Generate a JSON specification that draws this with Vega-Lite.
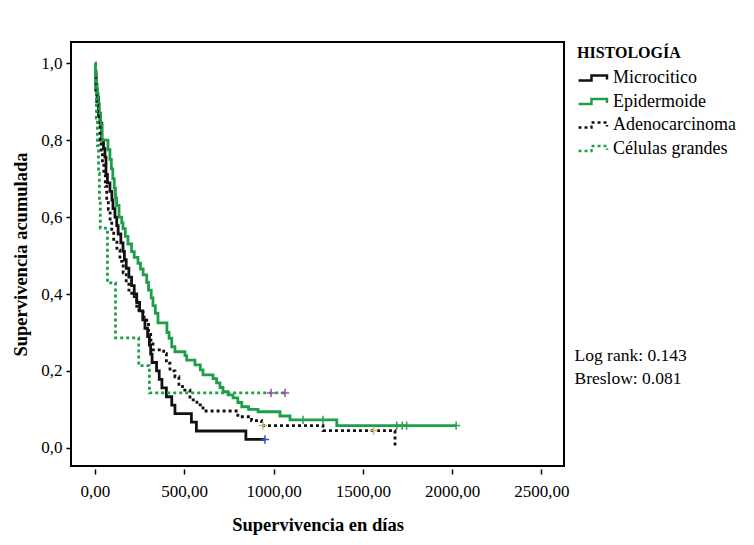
{
  "$schema": "https://vega.github.io/schema/vega-lite/v6.json",
  "width": 493,
  "height": 424,
  "autosize": {"type": "none"},
  "padding": {"left": 71, "top": 42, "right": 190, "bottom": 79},
  "background": "white",
  "config": {
    "locale": {"number": {"decimal": ",", "thousands": ".", "grouping": [3], "currency": ["", ""]}},
    "view": {"fill": "#e6e6e6", "stroke": "#000000", "strokeWidth": 2},
    "font": "Liberation Serif",
    "axis": {
      "labelFont": "Liberation Serif", "titleFont": "Liberation Serif",
      "labelColor": "#000000", "titleColor": "#000000", "tickColor": "#000000",
      "grid": false, "domain": false, "labelFontSize": 17, "titleFontSize": 18.5,
      "titleFontWeight": "bold", "tickWidth": 1.5, "tickSize": 5
    }
  },
  "datasets": {
    "km": [
      {"h": "Microcitico", "t": 0, "s": 0.978},
      {"h": "Microcitico", "t": 6, "s": 0.933},
      {"h": "Microcitico", "t": 12, "s": 0.911},
      {"h": "Microcitico", "t": 20, "s": 0.867},
      {"h": "Microcitico", "t": 28, "s": 0.844},
      {"h": "Microcitico", "t": 38, "s": 0.8},
      {"h": "Microcitico", "t": 48, "s": 0.778},
      {"h": "Microcitico", "t": 56, "s": 0.756},
      {"h": "Microcitico", "t": 62, "s": 0.711},
      {"h": "Microcitico", "t": 70, "s": 0.689},
      {"h": "Microcitico", "t": 84, "s": 0.667},
      {"h": "Microcitico", "t": 95, "s": 0.644},
      {"h": "Microcitico", "t": 101, "s": 0.622},
      {"h": "Microcitico", "t": 112, "s": 0.6},
      {"h": "Microcitico", "t": 122, "s": 0.578},
      {"h": "Microcitico", "t": 130, "s": 0.556},
      {"h": "Microcitico", "t": 145, "s": 0.533},
      {"h": "Microcitico", "t": 157, "s": 0.511},
      {"h": "Microcitico", "t": 165, "s": 0.489},
      {"h": "Microcitico", "t": 175, "s": 0.467},
      {"h": "Microcitico", "t": 190, "s": 0.444},
      {"h": "Microcitico", "t": 205, "s": 0.422},
      {"h": "Microcitico", "t": 220, "s": 0.4},
      {"h": "Microcitico", "t": 234, "s": 0.378},
      {"h": "Microcitico", "t": 250, "s": 0.356},
      {"h": "Microcitico", "t": 268, "s": 0.333},
      {"h": "Microcitico", "t": 280, "s": 0.311},
      {"h": "Microcitico", "t": 295, "s": 0.289},
      {"h": "Microcitico", "t": 305, "s": 0.267},
      {"h": "Microcitico", "t": 312, "s": 0.244},
      {"h": "Microcitico", "t": 320, "s": 0.222},
      {"h": "Microcitico", "t": 345, "s": 0.2},
      {"h": "Microcitico", "t": 360, "s": 0.178},
      {"h": "Microcitico", "t": 375, "s": 0.156},
      {"h": "Microcitico", "t": 400, "s": 0.133},
      {"h": "Microcitico", "t": 430, "s": 0.111},
      {"h": "Microcitico", "t": 448, "s": 0.089},
      {"h": "Microcitico", "t": 540, "s": 0.067},
      {"h": "Microcitico", "t": 568, "s": 0.044},
      {"h": "Microcitico", "t": 845, "s": 0.022},
      {"h": "Microcitico", "t": 952, "s": 0.022},

      {"h": "Epidermoide", "t": 0, "s": 1.0},
      {"h": "Epidermoide", "t": 3, "s": 0.97},
      {"h": "Epidermoide", "t": 7, "s": 0.945},
      {"h": "Epidermoide", "t": 12, "s": 0.92},
      {"h": "Epidermoide", "t": 18, "s": 0.895},
      {"h": "Epidermoide", "t": 25, "s": 0.87},
      {"h": "Epidermoide", "t": 32, "s": 0.84},
      {"h": "Epidermoide", "t": 40, "s": 0.8},
      {"h": "Epidermoide", "t": 73, "s": 0.775},
      {"h": "Epidermoide", "t": 84, "s": 0.75},
      {"h": "Epidermoide", "t": 92, "s": 0.725},
      {"h": "Epidermoide", "t": 100, "s": 0.7},
      {"h": "Epidermoide", "t": 108, "s": 0.675},
      {"h": "Epidermoide", "t": 115, "s": 0.65},
      {"h": "Epidermoide", "t": 121, "s": 0.63},
      {"h": "Epidermoide", "t": 135, "s": 0.6},
      {"h": "Epidermoide", "t": 150, "s": 0.585},
      {"h": "Epidermoide", "t": 157, "s": 0.57},
      {"h": "Epidermoide", "t": 170, "s": 0.55},
      {"h": "Epidermoide", "t": 185, "s": 0.53},
      {"h": "Epidermoide", "t": 205, "s": 0.51},
      {"h": "Epidermoide", "t": 220, "s": 0.495},
      {"h": "Epidermoide", "t": 241, "s": 0.48},
      {"h": "Epidermoide", "t": 255, "s": 0.465},
      {"h": "Epidermoide", "t": 270, "s": 0.45},
      {"h": "Epidermoide", "t": 290, "s": 0.43},
      {"h": "Epidermoide", "t": 300, "s": 0.41},
      {"h": "Epidermoide", "t": 315, "s": 0.39},
      {"h": "Epidermoide", "t": 325, "s": 0.37},
      {"h": "Epidermoide", "t": 338, "s": 0.35},
      {"h": "Epidermoide", "t": 353, "s": 0.325},
      {"h": "Epidermoide", "t": 403, "s": 0.3},
      {"h": "Epidermoide", "t": 415, "s": 0.285},
      {"h": "Epidermoide", "t": 430, "s": 0.263},
      {"h": "Epidermoide", "t": 448, "s": 0.25},
      {"h": "Epidermoide", "t": 504, "s": 0.24},
      {"h": "Epidermoide", "t": 514, "s": 0.228},
      {"h": "Epidermoide", "t": 560, "s": 0.216},
      {"h": "Epidermoide", "t": 590, "s": 0.203},
      {"h": "Epidermoide", "t": 605, "s": 0.19},
      {"h": "Epidermoide", "t": 661, "s": 0.18},
      {"h": "Epidermoide", "t": 681, "s": 0.169},
      {"h": "Epidermoide", "t": 700, "s": 0.157},
      {"h": "Epidermoide", "t": 717, "s": 0.146},
      {"h": "Epidermoide", "t": 745, "s": 0.138},
      {"h": "Epidermoide", "t": 773, "s": 0.13},
      {"h": "Epidermoide", "t": 800, "s": 0.118},
      {"h": "Epidermoide", "t": 822, "s": 0.107},
      {"h": "Epidermoide", "t": 860, "s": 0.1},
      {"h": "Epidermoide", "t": 913, "s": 0.094},
      {"h": "Epidermoide", "t": 1036, "s": 0.083},
      {"h": "Epidermoide", "t": 1092, "s": 0.073},
      {"h": "Epidermoide", "t": 1354, "s": 0.058},
      {"h": "Epidermoide", "t": 2022, "s": 0.058},

      {"h": "Adenocarcinoma", "t": 0, "s": 0.965},
      {"h": "Adenocarcinoma", "t": 5, "s": 0.93},
      {"h": "Adenocarcinoma", "t": 10, "s": 0.9},
      {"h": "Adenocarcinoma", "t": 15, "s": 0.87},
      {"h": "Adenocarcinoma", "t": 20, "s": 0.84},
      {"h": "Adenocarcinoma", "t": 28, "s": 0.8},
      {"h": "Adenocarcinoma", "t": 35, "s": 0.77},
      {"h": "Adenocarcinoma", "t": 42, "s": 0.74},
      {"h": "Adenocarcinoma", "t": 50, "s": 0.71},
      {"h": "Adenocarcinoma", "t": 58, "s": 0.68},
      {"h": "Adenocarcinoma", "t": 66, "s": 0.644},
      {"h": "Adenocarcinoma", "t": 75, "s": 0.62},
      {"h": "Adenocarcinoma", "t": 85, "s": 0.59},
      {"h": "Adenocarcinoma", "t": 94, "s": 0.558},
      {"h": "Adenocarcinoma", "t": 105, "s": 0.535},
      {"h": "Adenocarcinoma", "t": 123, "s": 0.514},
      {"h": "Adenocarcinoma", "t": 140, "s": 0.485},
      {"h": "Adenocarcinoma", "t": 158, "s": 0.455},
      {"h": "Adenocarcinoma", "t": 175, "s": 0.43},
      {"h": "Adenocarcinoma", "t": 190, "s": 0.41},
      {"h": "Adenocarcinoma", "t": 206, "s": 0.393},
      {"h": "Adenocarcinoma", "t": 234, "s": 0.358},
      {"h": "Adenocarcinoma", "t": 269, "s": 0.34},
      {"h": "Adenocarcinoma", "t": 290, "s": 0.325},
      {"h": "Adenocarcinoma", "t": 300, "s": 0.3},
      {"h": "Adenocarcinoma", "t": 312, "s": 0.28},
      {"h": "Adenocarcinoma", "t": 325, "s": 0.255},
      {"h": "Adenocarcinoma", "t": 385, "s": 0.245},
      {"h": "Adenocarcinoma", "t": 400, "s": 0.22},
      {"h": "Adenocarcinoma", "t": 420, "s": 0.2},
      {"h": "Adenocarcinoma", "t": 448, "s": 0.185},
      {"h": "Adenocarcinoma", "t": 470, "s": 0.16},
      {"h": "Adenocarcinoma", "t": 490, "s": 0.15},
      {"h": "Adenocarcinoma", "t": 532, "s": 0.125},
      {"h": "Adenocarcinoma", "t": 571, "s": 0.112},
      {"h": "Adenocarcinoma", "t": 605, "s": 0.096},
      {"h": "Adenocarcinoma", "t": 800, "s": 0.081},
      {"h": "Adenocarcinoma", "t": 877, "s": 0.071},
      {"h": "Adenocarcinoma", "t": 933, "s": 0.058},
      {"h": "Adenocarcinoma", "t": 1277, "s": 0.045},
      {"h": "Adenocarcinoma", "t": 1680, "s": 0.0},

      {"h": "Células grandes", "t": 0, "s": 1.0},
      {"h": "Células grandes", "t": 4, "s": 0.929},
      {"h": "Células grandes", "t": 8, "s": 0.857},
      {"h": "Células grandes", "t": 14, "s": 0.786},
      {"h": "Células grandes", "t": 20, "s": 0.714},
      {"h": "Células grandes", "t": 25, "s": 0.643},
      {"h": "Células grandes", "t": 30, "s": 0.571},
      {"h": "Células grandes", "t": 70, "s": 0.429},
      {"h": "Células grandes", "t": 115, "s": 0.286},
      {"h": "Células grandes", "t": 245, "s": 0.214},
      {"h": "Células grandes", "t": 305, "s": 0.143},
      {"h": "Células grandes", "t": 1064, "s": 0.143}
    ],
    "cens": [
      {"h": "Microcitico", "t": 952, "s": 0.022},
      {"h": "Epidermoide", "t": 1165, "s": 0.073},
      {"h": "Epidermoide", "t": 1277, "s": 0.073},
      {"h": "Epidermoide", "t": 1690, "s": 0.058},
      {"h": "Epidermoide", "t": 1720, "s": 0.058},
      {"h": "Epidermoide", "t": 1745, "s": 0.058},
      {"h": "Epidermoide", "t": 2022, "s": 0.058},
      {"h": "Adenocarcinoma", "t": 940, "s": 0.058},
      {"h": "Adenocarcinoma", "t": 1560, "s": 0.045},
      {"h": "Células grandes", "t": 986, "s": 0.143},
      {"h": "Células grandes", "t": 1064, "s": 0.143}
    ],
    "stats": [
      {"label": "Log rank: 0.143"},
      {"label": "Breslow: 0.081"}
    ]
  },
  "layer": [
    {
      "data": {"name": "km"},
      "mark": {"type": "line", "interpolate": "step-after", "strokeWidth": 2.8, "clip": true},
      "encoding": {
        "x": {
          "field": "t", "type": "quantitative",
          "scale": {"domain": [-134, 2626], "nice": false, "zero": false},
          "axis": {"values": [0, 500, 1000, 1500, 2000, 2500], "format": ".2f", "title": "Supervivencia en días", "offset": 3, "labelPadding": 9, "titlePadding": 16}
        },
        "y": {
          "field": "s", "type": "quantitative",
          "scale": {"domain": [-0.047, 1.055], "nice": false, "zero": false},
          "axis": {"values": [0, 0.2, 0.4, 0.6, 0.8, 1], "format": ".1f", "title": "Supervivencia acumulada", "labelPadding": 4, "titlePadding": 10}
        },
        "color": {
          "field": "h", "type": "nominal", "title": "HISTOLOGÍA",
          "scale": {"domain": ["Microcitico", "Epidermoide", "Adenocarcinoma", "Células grandes"], "range": ["#111111", "#1f9e48", "#111111", "#1f9e48"]},
          "legend": {
            "orient": "none", "legendX": 506, "legendY": 3,
            "symbolType": "M-1,0.33H0.73V-0.33H2.8V0.2", "symbolSize": 225, "symbolStrokeWidth": 2.5,
            "symbolFillColor": "transparent", "labelOffset": 18,
            "labelFont": "Liberation Serif", "labelFontSize": 18, "labelColor": "#000000",
            "titleFont": "Liberation Serif", "titleFontSize": 16, "titleFontWeight": "bold", "titleColor": "#000000",
            "titlePadding": 8, "rowPadding": 5.5, "padding": 0
          }
        },
        "strokeDash": {
          "field": "h", "type": "nominal", "title": "HISTOLOGÍA",
          "scale": {"domain": ["Microcitico", "Epidermoide", "Adenocarcinoma", "Células grandes"], "range": [[1, 0], [1, 0], [3, 3], [3, 3]]}
        }
      }
    },
    {
      "data": {"name": "cens"},
      "mark": {"type": "point", "shape": "M-1,0H1M0,-1V1", "filled": false, "size": 70, "strokeWidth": 1.5, "opacity": 1},
      "encoding": {
        "x": {"field": "t", "type": "quantitative"},
        "y": {"field": "s", "type": "quantitative"},
        "stroke": {
          "field": "h", "type": "nominal",
          "scale": {"domain": ["Microcitico", "Epidermoide", "Adenocarcinoma", "Células grandes"], "range": ["#3b50b5", "#2aa34f", "#c9b870", "#9a4fa8"]},
          "legend": null
        }
      }
    },
    {
      "data": {"name": "stats"},
      "mark": {"type": "point", "opacity": 0},
      "encoding": {
        "shape": {
          "field": "label", "type": "nominal", "sort": null,
          "legend": {
            "title": null, "orient": "none", "legendX": 486, "legendY": 305,
            "symbolOpacity": 0, "symbolSize": 0, "labelOffset": 0,
            "labelFont": "Liberation Serif", "labelFontSize": 17.5, "labelColor": "#000000",
            "rowPadding": 4, "padding": 0
          }
        }
      }
    }
  ]
}
